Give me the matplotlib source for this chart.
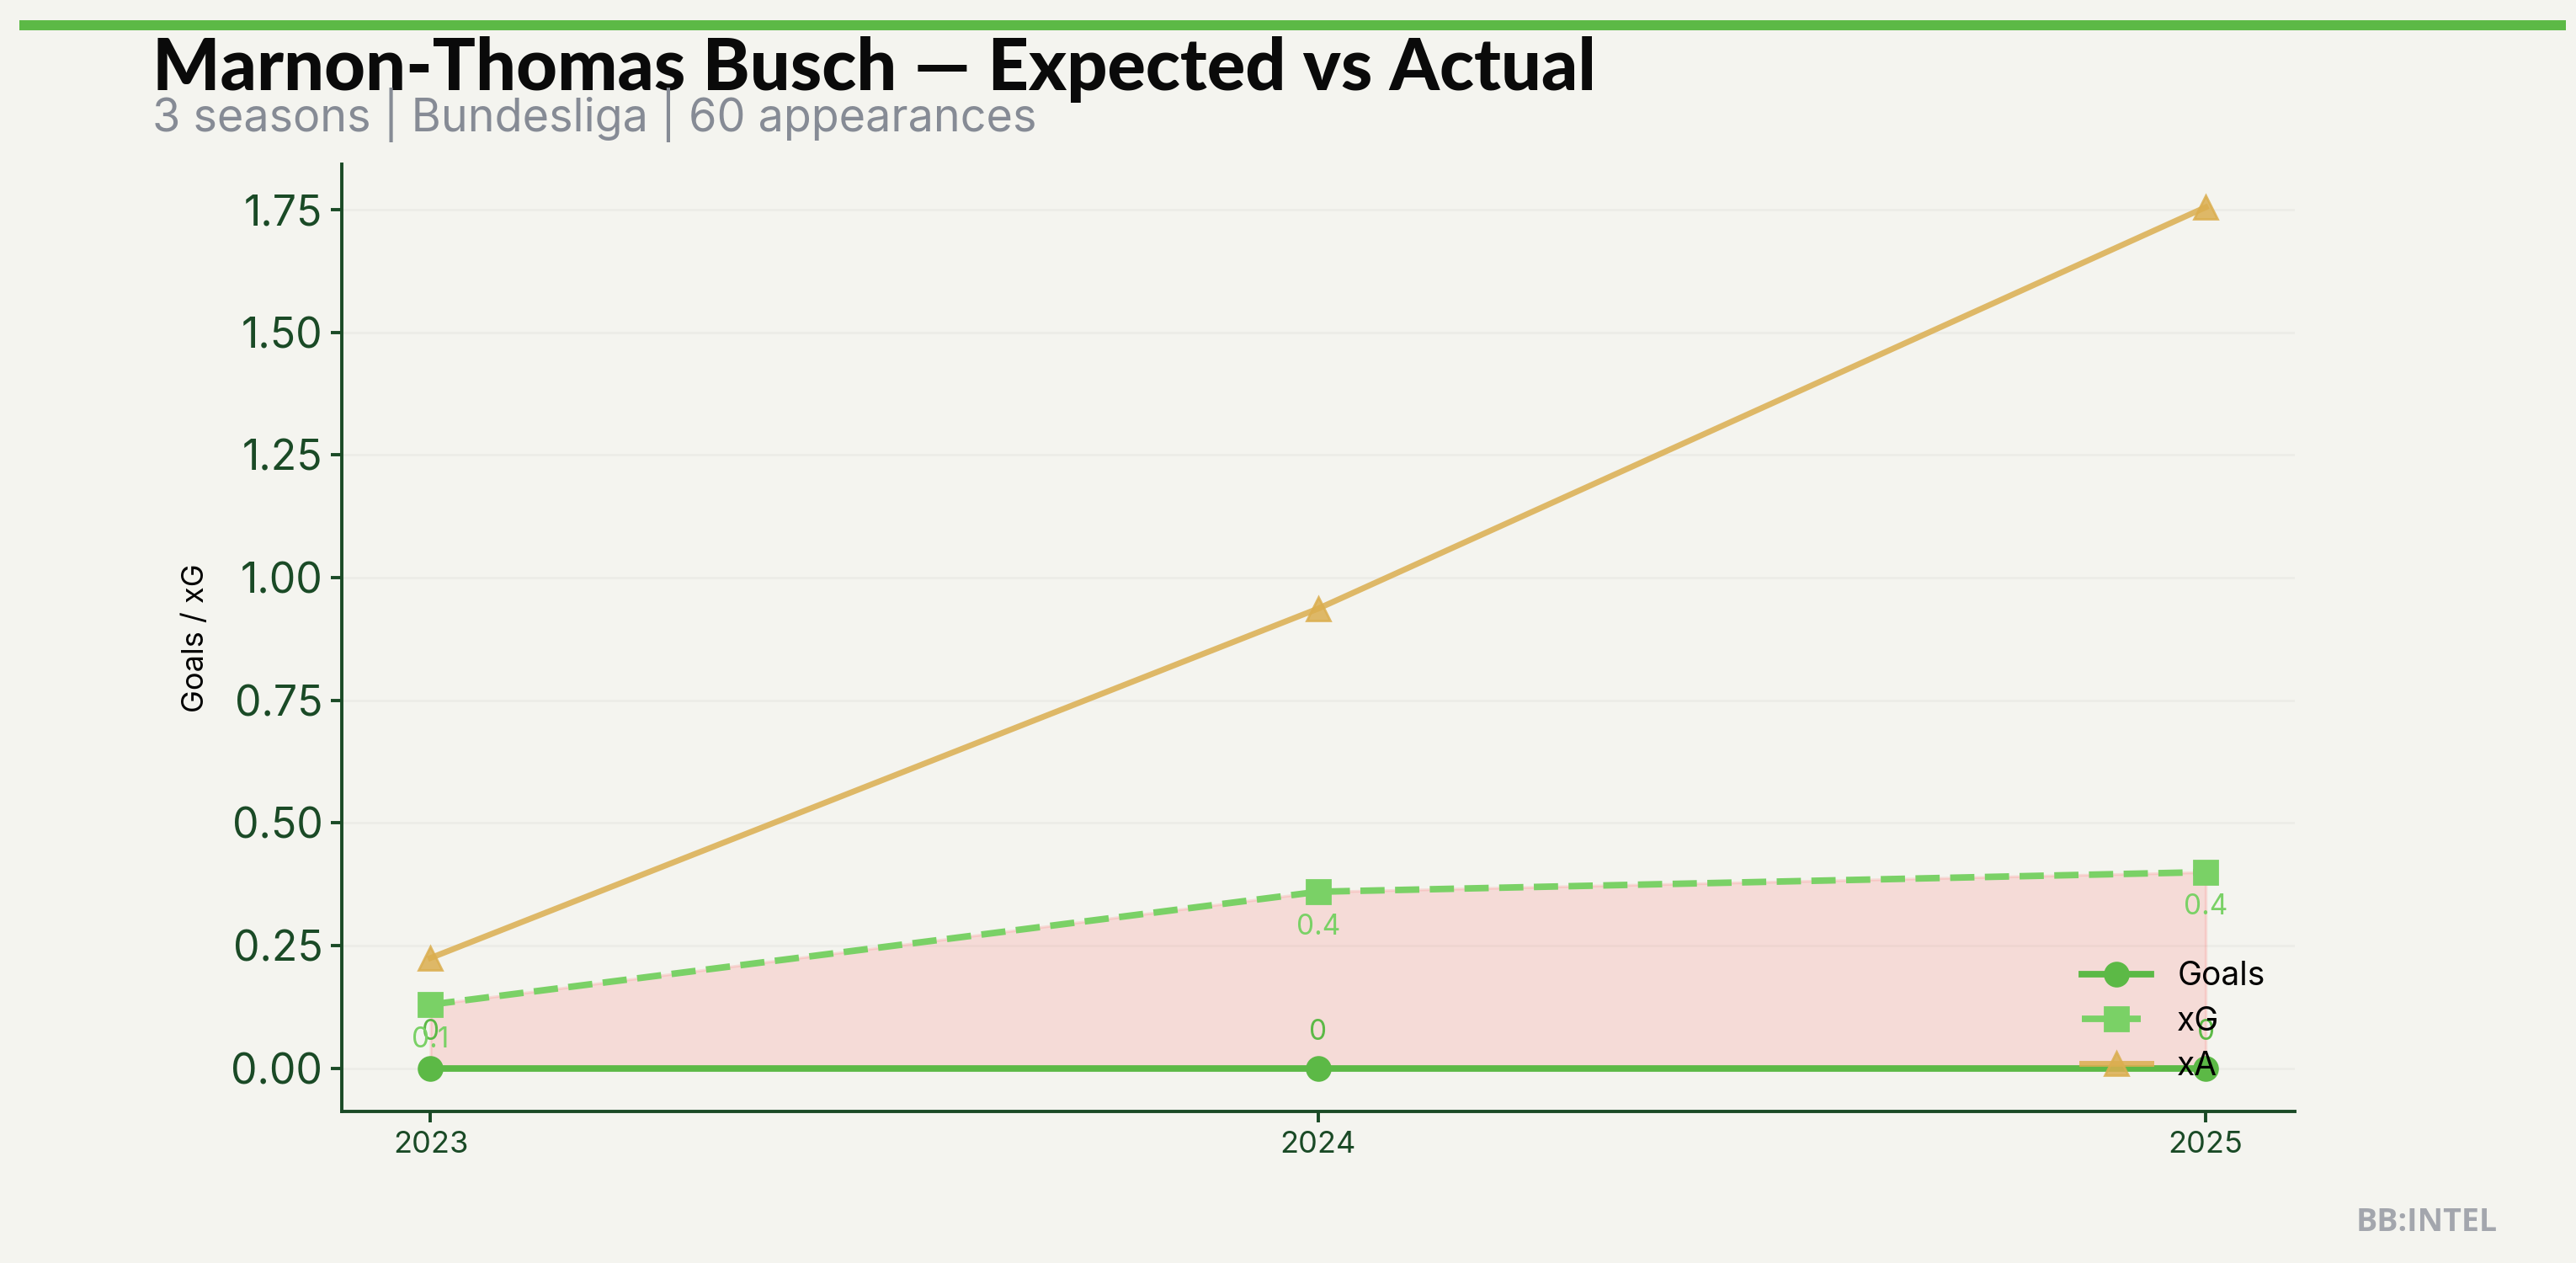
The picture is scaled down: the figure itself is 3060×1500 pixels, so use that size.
import matplotlib
matplotlib.use("Agg")
import matplotlib.pyplot as plt
import numpy as np

seasons = [2023, 2024, 2025]
goals = [0, 0, 0]
xg = [0.13, 0.36, 0.40]
xa = [0.225, 0.937, 1.755]
goal_labels = ["0", "0", "0"]
xg_labels = ["0.1", "0.4", "0.4"]

title = "Marnon-Thomas Busch \u2014 Expected vs Actual"
subtitle = "3 seasons | Bundesliga | 60 appearances"

bg = "#f4f4ef"
green = "#5cb946"
light_green = "#7ad166"
gold = "#dbae4f"
dark = "#1a4a26"

plt.rcParams['font.family'] = ['Inter', 'DejaVu Sans']

fig = plt.figure(figsize=(15.3, 7.5), dpi=200, facecolor=bg)
ax = fig.add_axes([0.1327, 0.12, 0.758, 0.75])
ax.set_facecolor(bg)

ax.fill_between(seasons, goals, xg, color="#ff5252", alpha=0.15, lw=1.2)
ax.plot(seasons, goals, color=green, lw=2.8, marker="o", ms=10, label="Goals", zorder=4)
ax.plot(seasons, xg, color=light_green, lw=2.8, ls="--", marker="s", ms=10, label="xG", zorder=4)
ax.plot(seasons, xa, color=gold, lw=2.5, marker="^", ms=10, alpha=0.85, label="xA", zorder=3)

for x, y, t in zip(seasons, goals, goal_labels):
    ax.annotate(t, (x, y), xytext=(0, 15.5), textcoords="offset points",
                ha="center", va="center", fontsize=12, color=green)
for x, y, t in zip(seasons, xg, xg_labels):
    ax.annotate(t, (x, y), xytext=(0, -15), textcoords="offset points",
                ha="center", va="center", fontsize=12, color=light_green)

ax.set_xticks(seasons)
ax.set_xticklabels([str(s) for s in seasons])
ax.tick_params(axis="x", labelsize=13, colors=dark, length=4.7, width=1.4)
ax.tick_params(axis="y", labelsize=18, colors=dark, length=4.7, width=1.4)
ax.yaxis.set_major_formatter(matplotlib.ticker.FormatStrFormatter("%.2f"))
ax.set_ylabel("Goals / xG", fontsize=13, color="black", labelpad=9)

for s in ["top", "right"]:
    ax.spines[s].set_visible(False)
for s in ["left", "bottom"]:
    ax.spines[s].set_color(dark)
    ax.spines[s].set_linewidth(1.4)

ax.grid(axis="y", color="#ecece7", lw=0.9)
ax.set_axisbelow(True)

ax.legend(loc="lower right", frameon=False, fontsize=14, labelspacing=0.42,
          handlelength=2.1)

fig.add_artist(plt.Line2D([0.0075, 0.996], [0.98, 0.98], color=green, lw=4.3,
                          transform=fig.transFigure, solid_capstyle="butt"))
fig.text(0.059, 0.929, title, fontsize=30.5, fontweight="black",
         family=["Lato", "DejaVu Sans"], color="#0a0a0a", va="baseline")
fig.text(0.059, 0.896, subtitle, fontsize=19.4, color="#868b95", va="baseline")
fig.text(0.9696, 0.0253, "BB:INTEL", fontsize=13.5, fontweight="bold",
         family=["Open Sans", "DejaVu Sans"], color="#a3a6ad", ha="right", va="baseline")

fig.savefig("out.png", dpi=200, facecolor=bg)
